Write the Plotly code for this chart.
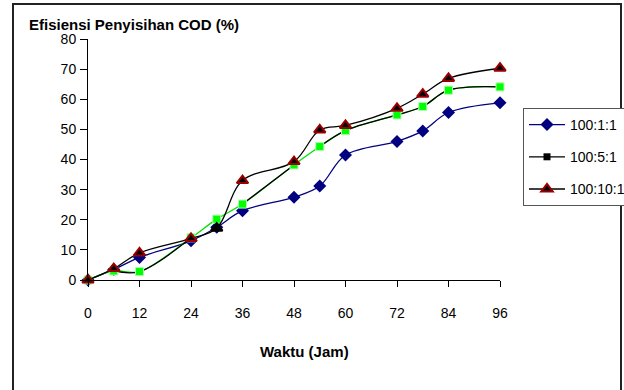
import plotly.graph_objects as go

# ---------------- data ----------------
waktu = [0, 6, 12, 24, 30, 36, 48, 54, 60, 72, 78, 84, 96]
eff_100_1_1 = [0, 3.5, 7.5, 13, 17.5, 23, 27.5, 31.2, 41.5, 46, 49.5, 55.6, 58.8]
eff_100_5_1 = [0, 3.0, 2.8, 14, 20.2, 25.2, 38.2, 44.3, 49.6, 54.8, 57.6, 63.0, 64.1]
eff_100_10_1 = [0, 3.8, 9, 13.8, 17.2, 33, 39.3, 49.8, 51.3, 57, 61.7, 66.9, 70.3]
x_ticks = [0, 12, 24, 36, 48, 60, 72, 84, 96]
y_ticks = [0, 10, 20, 30, 40, 50, 60, 70, 80]
series_names = ["100:1:1", "100:5:1", "100:10:1"]

# index ranges of 100:5:1 drawn with black line (rest shows the green line)
black_runs = [(1, 3), (5, 6), (7, 12)]

FONT = "Liberation Sans, Arial, sans-serif"

fig = go.Figure()

# 100:1:1
fig.add_trace(go.Scatter(
    x=waktu, y=eff_100_1_1, name=series_names[0], mode="lines+markers",
    line=dict(color="#000080", width=1.3, shape="spline"),
    marker=dict(symbol="diamond", size=10, color="#000080"),
    legendgroup="a", cliponaxis=False))

# green line for 100:5:1 (underneath)
fig.add_trace(go.Scatter(
    x=waktu, y=eff_100_5_1, mode="lines", showlegend=False,
    line=dict(color="#00E000", width=1.3, shape="spline"),
    hoverinfo="skip", cliponaxis=False))

# black line runs for 100:5:1
bx, by = [], []
for a, b in black_runs:
    bx += waktu[a:b + 1] + [None]
    by += eff_100_5_1[a:b + 1] + [None]
fig.add_trace(go.Scatter(
    x=bx, y=by, name=series_names[1], mode="lines+markers",
    line=dict(color="#000000", width=1.3, shape="spline"),
    marker=dict(symbol="square", size=7, color="#000000"),
    connectgaps=False, legendgroup="b", cliponaxis=False))

# lime square markers on top
fig.add_trace(go.Scatter(
    x=waktu, y=eff_100_5_1, mode="markers", showlegend=False,
    marker=dict(symbol="square", size=8, color="#00FF00",
                line=dict(color="#A8FFA8", width=1)),
    cliponaxis=False))

# 100:10:1
tri_edge = ["#9A0000"] * len(waktu)
tri_edge[4] = "#000000"
fig.add_trace(go.Scatter(
    x=waktu, y=eff_100_10_1, name=series_names[2], mode="lines+markers",
    line=dict(color="#000000", width=1.3, shape="spline"),
    marker=dict(symbol="triangle-up", size=10, color="#000000",
                line=dict(color=tri_edge, width=2)),
    legendgroup="c", cliponaxis=False))

fig.update_layout(
    width=624, height=390, autosize=False,
    margin=dict(l=88, r=124, t=39, b=110, pad=0, autoexpand=False),
    paper_bgcolor="white", plot_bgcolor="white",
    font=dict(family=FONT, size=14, color="#000000"),
    showlegend=True,
    legend=dict(x=(523 - 88) / 412, y=(280 - 108) / 241, xanchor="left", yanchor="top",
                bordercolor="#555555", borderwidth=1, bgcolor="white",
                font=dict(family=FONT, size=14, color="#000000"),
                traceorder="grouped", tracegroupgap=11, itemwidth=36),
    xaxis=dict(range=[0, 96], tickvals=x_ticks, ticktext=[str(v) for v in x_ticks],
               showgrid=False, zeroline=False, showline=True, linecolor="#000000",
               linewidth=1, ticks="outside", ticklen=6, tickcolor="#000000",
               ticklabelstandoff=14, tickfont=dict(family=FONT, size=14)),
    yaxis=dict(range=[0, 80], tickvals=y_ticks, ticktext=[str(v) for v in y_ticks],
               showgrid=False, zeroline=False, showline=True, linecolor="#000000",
               linewidth=1, ticks="outside", ticklen=7, tickcolor="#000000",
               ticklabelstandoff=1, tickfont=dict(family=FONT, size=14)),
    annotations=[
        dict(text="<b>Efisiensi Penyisihan COD (%)</b>", xref="paper", yref="paper",
             x=(27 - 88) / 412, y=(280 - 24) / 241, xanchor="left", yanchor="middle",
             showarrow=False, font=dict(family=FONT, size=15, color="#000000")),
        dict(text="<b>Waktu (Jam)</b>", xref="paper", yref="paper",
             x=(304 - 88) / 412, y=(280 - 351) / 241, xanchor="center", yanchor="middle",
             showarrow=False, font=dict(family=FONT, size=15, color="#000000")),
    ],
    shapes=[
        dict(type="rect", xref="paper", yref="paper", layer="below",
             x0=(13 - 88) / 412, x1=(621 - 88) / 412,
             y0=(280 - 420) / 241, y1=(280 - 4) / 241,
             line=dict(color="#222222", width=2), fillcolor="rgba(0,0,0,0)"),
    ],
)

fig.write_html("out.html")
